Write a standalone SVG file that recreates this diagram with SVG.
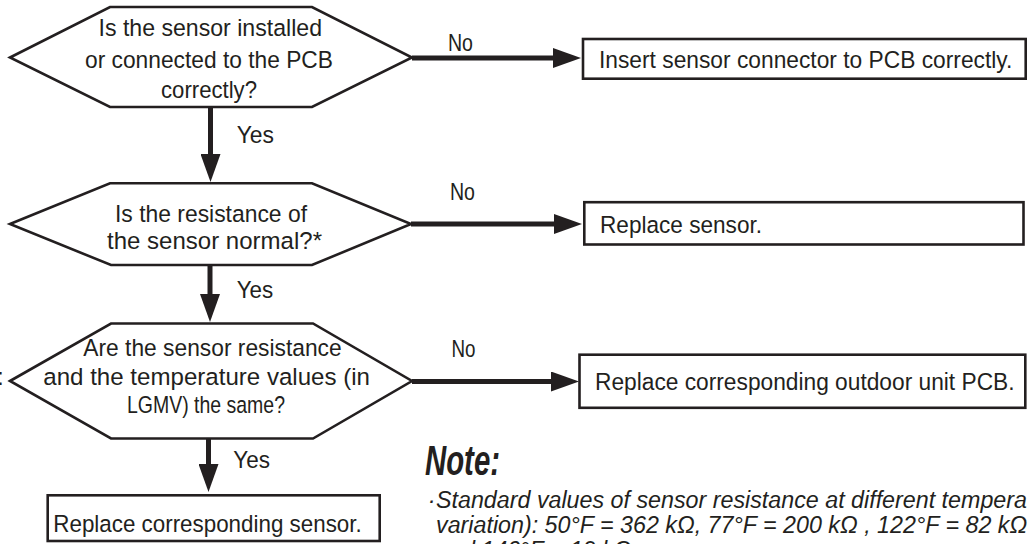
<svg xmlns="http://www.w3.org/2000/svg" width="1027" height="544" viewBox="0 0 1027 544">
<style>
.shape{fill:#ffffff;stroke:#231f20;stroke-width:2.6;stroke-linejoin:miter}
.t{font-family:"Liberation Sans",Arial,sans-serif;font-size:24.5px;fill:#231f20}
.lbl{font-family:"Liberation Sans",Arial,sans-serif;font-size:23.5px;fill:#231f20}
.conn{stroke:#231f20;stroke-width:5;fill:none}
.note{font-family:"Liberation Sans",Arial,sans-serif;font-style:italic;font-size:24px;fill:#231f20}
.noteh{font-family:"Liberation Sans",Arial,sans-serif;font-style:italic;font-weight:bold;font-size:42px;fill:#231f20}
</style>
<defs>
<marker id="ah" markerUnits="userSpaceOnUse" markerWidth="28" markerHeight="20" refX="8" refY="10" orient="auto">
<path d="M0,0 L28,10 L0,20 z" fill="#231f20"/>
</marker>
</defs>
<rect x="0" y="0" width="1027" height="544" fill="#ffffff"/>

<g id="connectors">
<line class="conn" x1="412" y1="58" x2="561" y2="58" marker-end="url(#ah)"/>
<line class="conn" x1="210.5" y1="107" x2="210.5" y2="162" marker-end="url(#ah)"/>
<line class="conn" x1="411" y1="224" x2="562" y2="224" marker-end="url(#ah)"/>
<line class="conn" x1="210" y1="265" x2="210" y2="302" marker-end="url(#ah)"/>
<line class="conn" x1="412" y1="381.5" x2="559" y2="381.5" marker-end="url(#ah)"/>
<line class="conn" x1="208.5" y1="438.5" x2="208.5" y2="472" marker-end="url(#ah)"/>
<text class="lbl" x="448" y="51" textLength="25" lengthAdjust="spacingAndGlyphs">No</text>
<text class="lbl" x="450" y="200" textLength="25" lengthAdjust="spacingAndGlyphs">No</text>
<text class="lbl" x="451.5" y="356.7" textLength="24" lengthAdjust="spacingAndGlyphs">No</text>
<text class="lbl" x="236.7" y="143" textLength="37.3" lengthAdjust="spacingAndGlyphs">Yes</text>
<text class="lbl" x="236.7" y="298.3" textLength="36.5" lengthAdjust="spacingAndGlyphs">Yes</text>
<text class="lbl" x="233.3" y="468.3" textLength="36.7" lengthAdjust="spacingAndGlyphs">Yes</text>
</g>

<g id="q1">
<polygon class="shape" points="10,57.5 110,7 312,7 412,57.5 312,107 110,107"/>
<text class="t" x="98.5" y="36" textLength="223.5" lengthAdjust="spacingAndGlyphs">Is the sensor installed</text>
<text class="t" x="85" y="67.5" textLength="248" lengthAdjust="spacingAndGlyphs">or connected to the PCB</text>
<text class="t" x="161" y="97.5" textLength="96" lengthAdjust="spacingAndGlyphs">correctly?</text>
</g>

<g id="a1">
<rect class="shape" x="583" y="39" width="442.7" height="39.7"/>
<text class="t" transform="translate(599,67.7) scale(0.93,1)" x="0" y="0">Insert sensor connector to PCB correctly.</text>
</g>

<g id="q2">
<polygon class="shape" points="10,224 110,183.3 312,183.3 411,224 312,265 111,265"/>
<text class="t" x="115" y="221.7" textLength="192" lengthAdjust="spacingAndGlyphs">Is the resistance of</text>
<text class="t" x="107" y="249" textLength="215" lengthAdjust="spacingAndGlyphs">the sensor normal?*</text>
</g>

<g id="a2">
<rect class="shape" x="584.3" y="202.2" width="439.2" height="42.3"/>
<text class="t" x="600" y="233.3" textLength="162" lengthAdjust="spacingAndGlyphs">Replace sensor.</text>
</g>

<g id="q3">
<polygon class="shape" points="10,381 111,323.5 313,323.5 412,381 313,438.5 111,438.5"/>
<text class="t" x="83.3" y="356" textLength="258.4" lengthAdjust="spacingAndGlyphs">Are the sensor resistance</text>
<text class="t" x="43.3" y="384.5" textLength="326.7" lengthAdjust="spacingAndGlyphs">and the temperature values (in</text>
<text class="t" x="127" y="413.3" textLength="158" lengthAdjust="spacingAndGlyphs">LGMV) the same?</text>
</g>

<g id="a3">
<rect class="shape" x="579.5" y="354.7" width="445.8" height="53.1"/>
<text class="t" transform="translate(595,390) scale(0.9285,1)" x="0" y="0">Replace corresponding outdoor unit PCB.</text>
</g>

<g id="a4">
<rect class="shape" x="47.7" y="495.3" width="332" height="45.7"/>
<text class="t" x="53.3" y="531.7" textLength="308.4" lengthAdjust="spacingAndGlyphs">Replace corresponding sensor.</text>
</g>

<g id="edge-fragment">
<text class="t" x="-3" y="384.5">:</text>
</g>

<g id="note">
<text class="noteh" x="425" y="475" textLength="75" lengthAdjust="spacingAndGlyphs">Note:</text>
<text class="note" x="427.5" y="508.3">·</text>
<g transform="translate(436,0) scale(0.97,1)">
<text class="note" x="0" y="508.3">Standard values of sensor resistance at different temperatures (±5%</text>
<text class="note" x="0" y="533.3">variation): 50°F = 362 kΩ, 77°F = 200 kΩ , 122°F = 82 kΩ,</text>
<text class="note" x="0" y="558">and 140°F = 19 kΩ.</text>
</g>
</g>
</svg>
